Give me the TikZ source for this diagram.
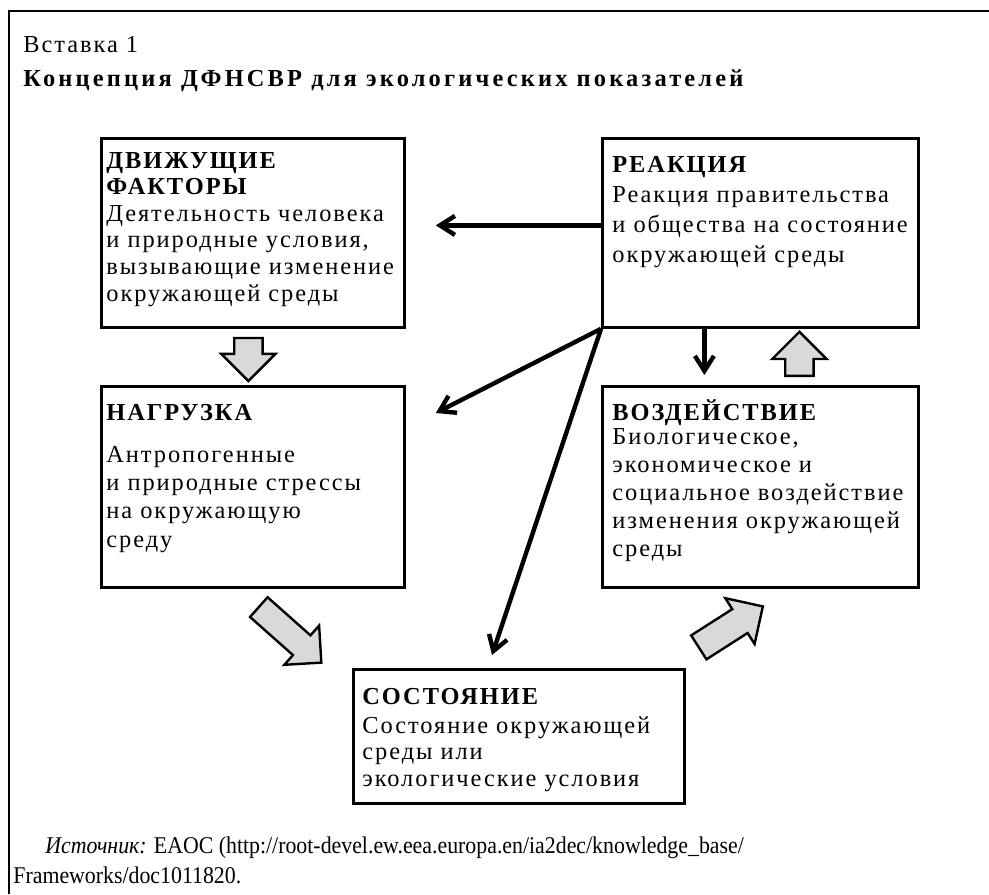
\documentclass[tikz,border=0pt]{standalone}
\usepackage{fontspec}
\setmainfont{Liberation Serif}
\usetikzlibrary{arrows.meta,shapes.arrows}

\tikzset{
  panel/.style={draw, line width=1.4pt, inner sep=0pt, anchor=north west},
  paneltext/.style={anchor=base west, inner sep=0pt,
    font=\fontsize{12.2}{#1}\selectfont\addfontfeature{LetterSpace=8}},
  reply/.style={line width=2.2pt, -{Straight Barb[length=7.5pt,width=9.5pt]}},
  blockarrow/.style={single arrow, draw, fill=gray!30, line width=1.2pt,
    anchor=tail, inner sep=6.5pt, single arrow head extend=6.5pt},
  source/.style={anchor=base west, inner sep=0pt,
    font=\fontsize{12}{14}\selectfont\addfontfeature{FakeStretch=0.91}}
}
\newcommand{\paneltxt}[1]{\parbox[t]{170pt}{\raggedright #1}}

\begin{document}
\begin{tikzpicture}[x=0.5pt,y=-0.5pt]
  \useasboundingbox (0,0) rectangle (989,894);
  % frame and heading
  \draw [line width=1.4pt] (9,894) -- (9,11) -- (989,11);
  \node [paneltext=13.5pt] (inset) at (23,52) {Вставка 1};
  \node [paneltext=13.5pt] (title) at (23,86) {\addfontfeature{LetterSpace=13}\bfseries Концепция ДФНСВР для экологических показателей};

  % boxes
  \node [panel, minimum width=151.5pt, minimum height=94.5pt] (drivers) at (100,137) {};
  \node [panel, minimum width=158pt, minimum height=94.5pt] (response) at (601,137) {};
  \node [panel, minimum width=151.5pt, minimum height=100.5pt] (pressure) at (100,385) {};
  \node [panel, minimum width=158pt, minimum height=100.5pt] (impact) at (601,385) {};
  \node [panel, minimum width=165.5pt, minimum height=67pt] (state) at (352,668) {};

  % box texts
  \node [paneltext=13.3pt] (drivers-txt) at (106,168) {\paneltxt{\textbf{ДВИЖУЩИЕ\\ФАКТОРЫ}\\
    Деятельность человека\\и природные условия,\\вызывающие изменение\\окружающей среды}};
  \node [paneltext=15pt] (response-txt) at (612,172) {\paneltxt{\textbf{РЕАКЦИЯ}\\
    Реакция правительства\\и общества на состояние\\окружающей среды}};
  \node [paneltext=14.2pt] (pressure-txt) at (106,420) {\paneltxt{\textbf{НАГРУЗКА}\\[6.8pt]
    Антропогенные\\и природные стрессы\\на окружающую\\среду}};
  \node [paneltext=14pt] (impact-txt) at (612,420) {\paneltxt{\textbf{ВОЗДЕЙСТВИЕ}\\[-2pt]
    Биологическое,\\экономическое и\\социальное воздействие\\изменения окружающей\\среды}};
  \node [paneltext=13.3pt] (state-txt) at (362,704) {\paneltxt{\textbf{СОСТОЯНИЕ}\\[1.2pt]
    Состояние окружающей\\среды или\\экологические условия}};

  % response arrows
  \draw [reply] ([yshift=3.75pt]response.west) -- ([yshift=3.75pt,xshift=15pt]drivers.east);
  \draw [reply] (response.south west) -- ([shift={(15pt,-14pt)}]pressure.north east);
  \draw [reply] (response.south west) -- ([shift={(70pt,6.5pt)}]state.north west);
  \draw [reply] ([xshift=-28pt]response.south) -- ([xshift=-28pt,yshift=5pt]impact.north);

  % grey block arrows
  \node [blockarrow, rotate=-90, minimum height=21.5pt] (a-dp) at ([shift={(-2.25pt,-4pt)}]drivers.south) {};
  \node [blockarrow, rotate=90, minimum height=22pt] (a-ir) at ([shift={(19.5pt,4pt)}]impact.north) {};
  \node [blockarrow, rotate=-41.6, minimum height=41.8pt, inner sep=6pt] (a-ps) at ([shift={(2.5pt,-8.75pt)}]pressure.south) {};
  \node [blockarrow, rotate=32.6, minimum height=38pt] (a-si) at ([shift={(6pt,10pt)}]state.north east) {};

  % source
  \node [source] (src1) at (45,853)
    {\textit{Источник:} EAOC (http://root-devel.ew.eea.europa.en/ia2dec/knowledge\_base/};
  \node [source] (src2) at (13,883) {Frameworks/doc1011820.};
\end{tikzpicture}
\end{document}
